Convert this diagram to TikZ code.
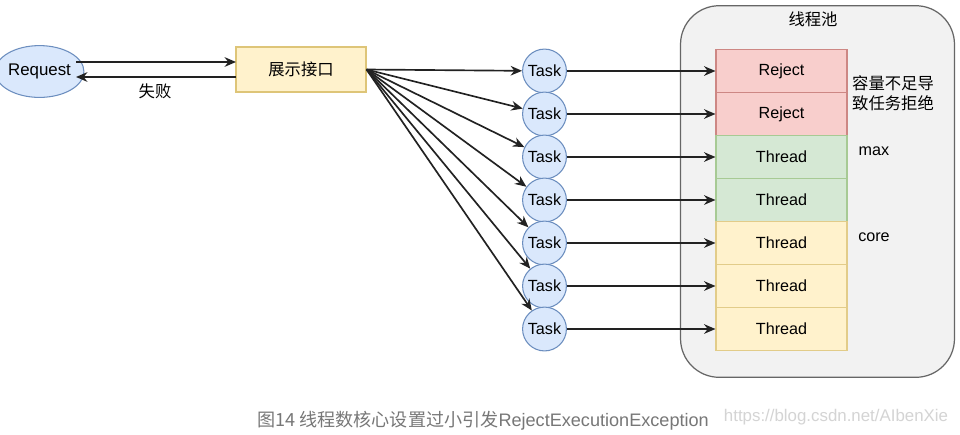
\documentclass[tikz,border=0pt]{standalone}
\usepackage{fontspec}
\setmainfont{Liberation Sans}
\newfontfamily\cjk{Noto Sans CJK SC}
\usetikzlibrary{arrows.meta,shapes.geometric}
\definecolor{taskfill}{HTML}{DAE8FC}
\definecolor{taskdraw}{HTML}{6C8EBF}
\definecolor{yfill}{HTML}{FFF2CC}
\definecolor{ydraw}{HTML}{D6B656}
\definecolor{rfill}{HTML}{F8CECC}
\definecolor{rdraw}{HTML}{B85450}
\definecolor{gfill}{HTML}{D5E8D4}
\definecolor{gdraw}{HTML}{82B366}
\definecolor{poolfill}{HTML}{F2F2F2}
\definecolor{pooldraw}{HTML}{666666}
\definecolor{capgray}{HTML}{777777}
\definecolor{wmgray}{HTML}{D4D4D4}
\definecolor{linec}{HTML}{222222}
\tikzset{
  lbl/.style={font=\fontsize{9.2}{11}\selectfont, inner sep=0pt},
  cjklbl/.style={font=\fontsize{9.3}{11.5}\selectfont\cjk, inner sep=0pt},
  task/.style={circle, draw=taskdraw, fill=taskfill, line width=0.6pt, minimum size=44*0.567pt, inner sep=0pt, font=\fontsize{9.2}{10}\selectfont},
  cell/.style={rectangle, line width=0.9pt, minimum width=131*0.567pt, minimum height=43*0.567pt, inner sep=0pt, font=\fontsize{9.2}{10}\selectfont},
  rcell/.style={cell, draw=rdraw!70, fill=rfill},
  gcell/.style={cell, draw=gdraw!70, fill=gfill},
  ycell/.style={cell, draw=ydraw!70, fill=yfill},
  arr/.style={draw=linec, line width=0.95pt, -{Stealth[length=6.5pt,width=5.5pt]}},
}
\begin{document}
\begin{tikzpicture}[x=0.02cm, y=-0.02cm]
\useasboundingbox[fill=white] (0,0) rectangle (960,434);
% pool
\node[draw=pooldraw, fill=poolfill, rounded corners=22pt, line width=0.7pt, minimum width=275*0.567pt, minimum height=373*0.567pt, inner sep=0pt] (pool) at (817.5,191.5) {};
\node[cjklbl] (pooltitle) at (813,19) {线程池};
% request
\node[ellipse, draw=taskdraw, fill=taskfill, line width=0.6pt, minimum width=74*0.567pt, minimum height=52*0.567pt, inner sep=0pt, font=\fontsize{9.6}{10}\selectfont] (req) at (39.5,71.5) {Request};
\node[rectangle, draw=ydraw!80, fill=yfill, line width=0.9pt, minimum width=130*0.567pt, minimum height=45*0.567pt, inner sep=0pt, font=\fontsize{9.3}{11}\selectfont\cjk] (api) at (301,69.5) {展示接口};
\coordinate (reqa) at (76,62);
\coordinate (apia) at (236,62);
\coordinate (reqb) at (76,77);
\coordinate (apib) at (236,77);
\draw[arr] (reqa) -- (apia);
\draw[arr] (apib) -- (reqb);
\node[cjklbl] (fail) at (155,91) {失败};
% tasks and cells
\foreach \i/\y/\s/\t in {1/71/rcell/Reject,2/114/rcell/Reject,3/157/gcell/Thread,4/200/gcell/Thread,5/243/ycell/Thread,6/286/ycell/Thread,7/329/ycell/Thread}{
  \node[task] (t\i) at (544.5,\y) {Task};
  \node[\s] (c\i) at (781.5,\y) {\t};
}
\foreach \i in {1,...,7}{
  \draw[arr] (api.east) -- (t\i);
  \draw[arr] (t\i.east) -- (c\i.west);
}
\node[cjklbl, align=left] (rejlbl) at (893,93) {容量不足导\\致任务拒绝};
\node[lbl] (maxlbl) at (874,151) {max};
\node[lbl] (corelbl) at (874,237) {core};
% caption
\node[font=\fontsize{10.3}{12}\selectfont, text=capgray, inner sep=0pt] (cap) at (483,421) {{\cjk 图14 线程数核心设置过小引发}RejectExecutionException};
\node[font=\fontsize{9.6}{11}\selectfont, text=wmgray, inner sep=0pt] (wm) at (836,417) {https://blog.csdn.net/AIbenXie};
\end{tikzpicture}
\end{document}
